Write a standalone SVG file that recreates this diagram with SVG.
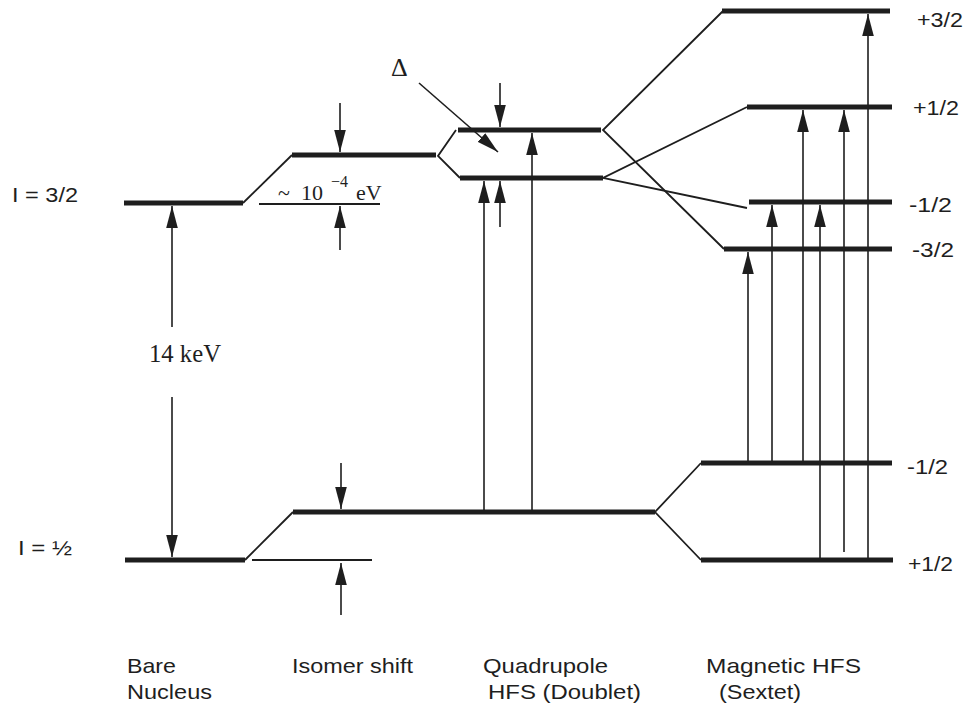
<svg xmlns="http://www.w3.org/2000/svg" width="969" height="706" viewBox="0 0 969 706">
  <style>
    .lvl { stroke: #1e1e1e; stroke-width: 5; fill: none; }
    .thin { stroke: #1e1e1e; stroke-width: 1.8; fill: none; }
    .arr { stroke: #1e1e1e; stroke-width: 1.6; fill: none; marker-end: url(#ah); }
    .sans { font-family: "Liberation Sans", Arial, sans-serif; font-size: 21px; fill: #1e1e1e; }
    .serif { font-family: "Liberation Serif", "Times New Roman", serif; fill: #1e1e1e; }
  </style>
  <defs>
    <marker id="ah" viewBox="-22 -6 22 12" refX="0" refY="0" markerWidth="22" markerHeight="12" markerUnits="userSpaceOnUse" orient="auto">
      <path d="M0,0 L-22,-5.8 L-22,5.8 Z" fill="#1e1e1e"/>
    </marker>
  </defs>
  <rect width="969" height="706" fill="#ffffff"/>

  <!-- Bare nucleus levels -->
  <g id="bare">
    <line class="lvl" x1="124" y1="203" x2="243" y2="203"/>
    <line class="lvl" x1="125" y1="560" x2="245" y2="560"/>
    <text class="sans" x="12" y="202" textLength="66" lengthAdjust="spacingAndGlyphs">I = 3/2</text>
    <text class="sans" x="18" y="555" textLength="54" lengthAdjust="spacingAndGlyphs">I = ½</text>
    <text class="serif" x="149" y="362" font-size="25" textLength="72" lengthAdjust="spacingAndGlyphs">14 keV</text>
  </g>

  <!-- Isomer shift levels -->
  <g id="isomer">
    <line class="lvl" x1="292" y1="155" x2="436" y2="155"/>
    <line class="lvl" x1="293" y1="512" x2="655" y2="512"/>
    <line class="thin" x1="259" y1="204" x2="380" y2="204"/>
    <line class="thin" x1="252" y1="560" x2="372" y2="560"/>
    <text class="serif" font-size="22" y="200"><tspan x="278">~</tspan><tspan x="301">10</tspan><tspan x="331" y="187" font-size="16">−4</tspan><tspan x="356" y="200">eV</tspan></text>
  </g>

  <!-- Quadrupole HFS levels -->
  <g id="quadrupole">
    <line class="lvl" x1="458" y1="130" x2="601" y2="130"/>
    <line class="lvl" x1="460" y1="178" x2="603" y2="178"/>
    <text class="serif" x="391" y="76" font-size="26">Δ</text>
  </g>

  <!-- Magnetic HFS levels -->
  <g id="magnetic">
    <line class="lvl" x1="722" y1="11" x2="890" y2="11"/>
    <line class="lvl" x1="747" y1="107" x2="892" y2="107"/>
    <line class="lvl" x1="749" y1="202" x2="892" y2="202"/>
    <line class="lvl" x1="724" y1="249" x2="892" y2="249"/>
    <line class="lvl" x1="701" y1="463" x2="892" y2="463"/>
    <line class="lvl" x1="701" y1="560" x2="893" y2="560"/>
    <text class="sans" x="917" y="27" textLength="46" lengthAdjust="spacingAndGlyphs">+3/2</text>
    <text class="sans" x="913" y="115" textLength="46" lengthAdjust="spacingAndGlyphs">+1/2</text>
    <text class="sans" x="909" y="212" textLength="43" lengthAdjust="spacingAndGlyphs">-1/2</text>
    <text class="sans" x="912" y="257" textLength="42" lengthAdjust="spacingAndGlyphs">-3/2</text>
    <text class="sans" x="907" y="474" textLength="41" lengthAdjust="spacingAndGlyphs">-1/2</text>
    <text class="sans" x="908" y="571" textLength="45" lengthAdjust="spacingAndGlyphs">+1/2</text>
  </g>

  <!-- Column captions -->
  <g id="captions">
    <text class="sans" x="127" y="673" textLength="49" lengthAdjust="spacingAndGlyphs">Bare</text>
    <text class="sans" x="127" y="699" textLength="85" lengthAdjust="spacingAndGlyphs">Nucleus</text>
    <text class="sans" x="292" y="673" textLength="121" lengthAdjust="spacingAndGlyphs">Isomer shift</text>
    <text class="sans" x="483" y="673" textLength="125" lengthAdjust="spacingAndGlyphs">Quadrupole</text>
    <text class="sans" x="488" y="699" textLength="153" lengthAdjust="spacingAndGlyphs">HFS (Doublet)</text>
    <text class="sans" x="706" y="673" textLength="155" lengthAdjust="spacingAndGlyphs">Magnetic HFS</text>
    <text class="sans" x="719" y="699" textLength="82" lengthAdjust="spacingAndGlyphs">(Sextet)</text>
  </g>

  <!-- Connectors -->
  <g id="connectors">
    <!-- splitting lines -->
    <polyline class="thin" points="243,203 292,155"/>
    <polyline class="thin" points="245,560 293,512"/>
    <polyline class="thin" points="456,130 438,156 460,178"/>
    <polyline class="thin" points="723,11 603,130 724,249"/>
    <polyline class="thin" points="747,107 603,178 747,208"/>
    <polyline class="thin" points="701,463 655,512 701,560"/>

    <!-- 14 keV -->
    <line class="arr" x1="172" y1="327" x2="172" y2="206"/>
    <line class="arr" x1="172" y1="397" x2="172" y2="557"/>

    <!-- isomer shift dimension arrows -->
    <line class="arr" x1="340" y1="103" x2="340" y2="152"/>
    <line class="arr" x1="340" y1="250" x2="340" y2="206"/>
    <line class="arr" x1="341" y1="463" x2="341" y2="509"/>
    <line class="arr" x1="341" y1="615" x2="341" y2="563"/>

    <!-- quadrupole -->
    <line class="arr" x1="500" y1="83" x2="500" y2="127"/>
    <line class="arr" x1="419" y1="83" x2="498" y2="152"/>
    <line class="arr" x1="484" y1="511" x2="484" y2="181"/>
    <line class="arr" x1="500" y1="227" x2="500" y2="181"/>
    <line class="arr" x1="532" y1="511" x2="532" y2="133"/>

    <!-- magnetic transitions -->
    <line class="arr" x1="748" y1="463" x2="748" y2="252"/>
    <line class="arr" x1="772" y1="463" x2="772" y2="205"/>
    <line class="arr" x1="803" y1="463" x2="803" y2="110"/>
    <line class="arr" x1="820" y1="560" x2="820" y2="205"/>
    <line class="arr" x1="844" y1="552" x2="844" y2="110"/>
    <line class="arr" x1="868" y1="560" x2="868" y2="14"/>
  </g>
</svg>
